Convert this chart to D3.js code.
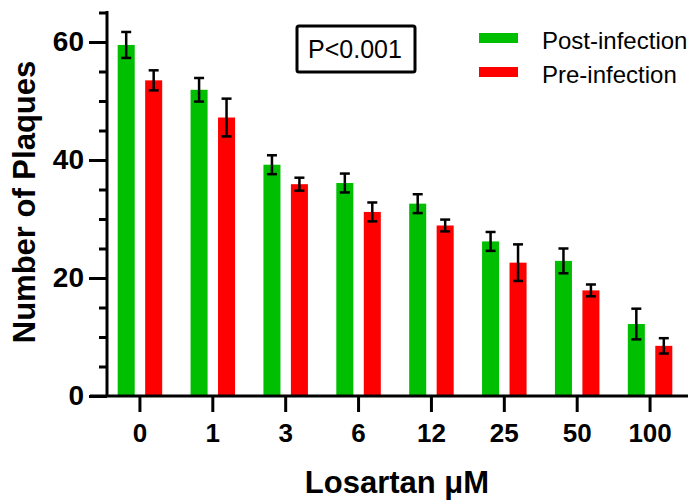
<!DOCTYPE html>
<html>
<head>
<meta charset="utf-8">
<script src="https://cdn.jsdelivr.net/npm/d3@7"></script>
<style>
  html, body { margin: 0; padding: 0; background: #fff; }
  svg { display: block; }
  text { font-family: "Liberation Sans", Arial, sans-serif; }
</style>
</head>
<body>
<svg id="chart" width="689" height="504"></svg>
<script>
// ---- data ----
const categories = ["0", "1", "3", "6", "12", "25", "50", "100"];
const seriesNames = ["Post-infection", "Pre-infection"];
const postValues = [59.5, 51.9, 39.2, 36.1, 32.6, 26.2, 22.9, 12.2];
const postErrors = [2.2, 2.0, 1.6, 1.6, 1.6, 1.6, 2.1, 2.6];
const preValues = [53.5, 47.2, 35.9, 31.2, 28.9, 22.6, 17.9, 8.5];
const preErrors = [1.7, 3.2, 1.1, 1.6, 1.0, 3.1, 1.0, 1.3];
const yMajorTicks = [0, 20, 40, 60];
const yMinorTicks = [5, 10, 15, 25, 30, 35, 45, 50, 55, 65];
const seriesColors = ["#00bf00", "#ff0000"];
const pText = "P<0.001";

const svg = d3.select("#chart");

const y = d3.scaleLinear().domain([0, 65]).range([396, 12.5]);
const x = d3.scaleBand().domain(categories).range([103.5, 686.5]).padding(0);
const xi = d3.scaleBand().domain(seriesNames).range([-22.25, 22.25]).paddingInner(0.38).paddingOuter(0);

const rows = [];
categories.forEach((c, i) => {
  rows.push({ cat: c, series: seriesNames[0], value: postValues[i], err: postErrors[i], color: seriesColors[0] });
  rows.push({ cat: c, series: seriesNames[1], value: preValues[i], err: preErrors[i], color: seriesColors[1] });
});

const cx = d => x(d.cat) + x.bandwidth() / 2 + xi(d.series);

// bars
svg.append("g").selectAll("rect").data(rows).join("rect")
  .attr("x", d => cx(d))
  .attr("width", xi.bandwidth())
  .attr("y", d => y(d.value))
  .attr("height", d => y(0) - y(d.value))
  .attr("fill", d => d.color);

// error bars
const eb = svg.append("g").attr("stroke", "#000").attr("stroke-width", 2.5).attr("fill", "none");
rows.forEach(d => {
  const mx = cx(d) + xi.bandwidth() / 2;
  eb.append("line").attr("x1", mx).attr("x2", mx).attr("y1", y(d.value + d.err)).attr("y2", y(d.value - d.err));
  eb.append("line").attr("x1", mx - 5).attr("x2", mx + 5).attr("y1", y(d.value + d.err)).attr("y2", y(d.value + d.err));
  eb.append("line").attr("x1", mx - 5).attr("x2", mx + 5).attr("y1", y(d.value - d.err)).attr("y2", y(d.value - d.err));
});

// y axis
const axisX = 107;
const yAxisMinor = svg.append("g").attr("transform", `translate(${axisX},0)`)
  .call(d3.axisLeft(y).tickValues(yMinorTicks).tickSize(8).tickSizeOuter(0).tickFormat(""));
yAxisMinor.select(".domain").remove();
const yAxis = svg.append("g").attr("transform", `translate(${axisX},0)`)
  .call(d3.axisLeft(y).tickValues(yMajorTicks).tickSize(18).tickSizeOuter(0).tickPadding(5));
yAxis.select(".domain").remove();
svg.selectAll(".tick line").attr("stroke", "#000").attr("stroke-width", 3);
yAxis.selectAll(".tick text")
  .attr("font-size", 28).attr("font-weight", "bold").attr("fill", "#000")
  .attr("font-family", "'Liberation Sans', Arial, sans-serif");
svg.append("line").attr("x1", axisX).attr("x2", axisX).attr("y1", y(65) - 1.5).attr("y2", y(0))
  .attr("stroke", "#000").attr("stroke-width", 3);

// x axis
const xAxis = svg.append("g").attr("transform", `translate(0,${y(0)})`)
  .call(d3.axisBottom(x).tickSize(16).tickSizeOuter(0).tickPadding(12));
xAxis.select(".domain").remove();
xAxis.selectAll(".tick line").attr("stroke", "#000").attr("stroke-width", 3);
xAxis.selectAll(".tick text")
  .attr("font-size", 26).attr("font-weight", "bold").attr("fill", "#000")
  .attr("font-family", "'Liberation Sans', Arial, sans-serif");
svg.append("line").attr("x1", 90).attr("x2", 688).attr("y1", y(0)).attr("y2", y(0))
  .attr("stroke", "#000").attr("stroke-width", 3);

// axis titles
svg.append("text")
  .attr("transform", "translate(35,202) rotate(-90)")
  .attr("text-anchor", "middle")
  .attr("font-size", 31).attr("font-weight", "bold").attr("fill", "#000")
  .text("Number of Plaques");
svg.append("text")
  .attr("x", 397).attr("y", 493)
  .attr("text-anchor", "middle")
  .attr("font-size", 31).attr("font-weight", "bold").attr("fill", "#000")
  .text("Losartan \u03BCM");

// P value box
svg.append("rect").attr("x", 297).attr("y", 26).attr("width", 118).attr("height", 46).attr("rx", 2)
  .attr("fill", "#fff").attr("stroke", "#000").attr("stroke-width", 3);
svg.append("text").attr("x", 355).attr("y", 58).attr("text-anchor", "middle")
  .attr("font-size", 25).attr("fill", "#000").text(pText);

// legend
const legend = svg.append("g");
seriesNames.forEach((s, i) => {
  const ly = 33 + i * 34;
  legend.append("rect").attr("x", 479).attr("y", ly).attr("width", 39).attr("height", 10).attr("fill", seriesColors[i]);
  legend.append("text").attr("x", 542).attr("y", ly + 15.5).attr("font-size", 24).attr("fill", "#000").text(s);
});
</script>
</body>
</html>
